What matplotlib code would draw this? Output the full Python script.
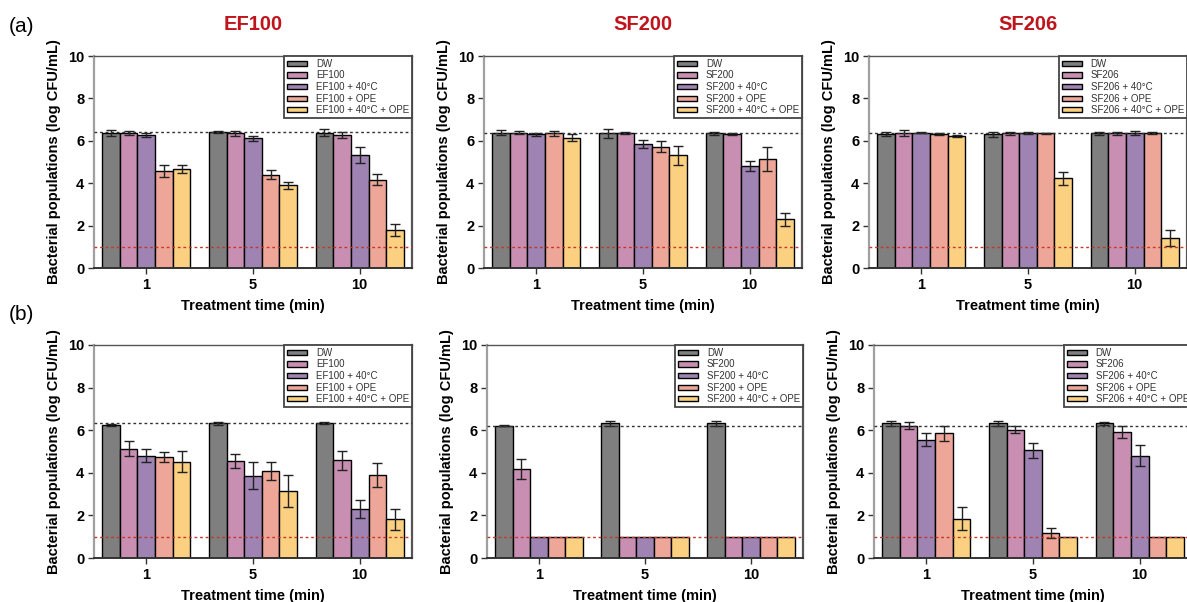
import numpy as np
import matplotlib
matplotlib.use("Agg")
import matplotlib.pyplot as plt
from matplotlib.patches import Patch

plt.rcParams['font.family'] = ['Liberation Sans', 'DejaVu Sans']

# ---------------- data ----------------
times = ["1", "5", "10"]
strains = ["EF100", "SF200", "SF206"]
treat_suffix = ["", " + 40°C", " + OPE", " + 40°C + OPE"]
colors = ["#7f7f7f", "#c98fb2", "#9e83b3", "#eda698", "#fbd081"]

# row (a): values [treatment][time]
a_EF100 = [[6.38, 6.43, 6.39], [6.38, 6.35, 6.27], [6.27, 6.11, 5.33], [4.58, 4.40, 4.17], [4.66, 3.90, 1.80]]
a_EF100_err = [[0.15, 0.05, 0.15], [0.10, 0.13, 0.15], [0.10, 0.13, 0.40], [0.27, 0.20, 0.27], [0.18, 0.17, 0.28]]
a_SF200 = [[6.38, 6.35, 6.35], [6.38, 6.35, 6.32], [6.30, 5.85, 4.81], [6.35, 5.72, 5.16], [6.14, 5.31, 2.30]]
a_SF200_err = [[0.13, 0.20, 0.07], [0.08, 0.05, 0.07], [0.07, 0.20, 0.22], [0.13, 0.25, 0.57], [0.17, 0.45, 0.30]]
a_SF206 = [[6.32, 6.30, 6.35], [6.38, 6.36, 6.35], [6.38, 6.35, 6.35], [6.30, 6.36, 6.35], [6.24, 4.23, 1.43]]
a_SF206_err = [[0.10, 0.10, 0.07], [0.14, 0.07, 0.08], [0.03, 0.05, 0.10], [0.05, 0.03, 0.05], [0.05, 0.30, 0.38]]

# row (b)
b_EF100 = [[6.24, 6.32, 6.32], [5.14, 4.56, 4.58], [4.81, 3.87, 2.29], [4.75, 4.09, 3.89], [4.53, 3.15, 1.82]]
b_EF100_err = [[0.04, 0.08, 0.05], [0.35, 0.33, 0.45], [0.30, 0.65, 0.43], [0.22, 0.42, 0.55], [0.50, 0.75, 0.50]]
b_SF200 = [[6.22, 6.32, 6.32], [4.18, 1.0, 1.0], [1.0, 1.0, 1.0], [1.0, 1.0, 1.0], [1.0, 1.0, 1.0]]
b_SF200_err = [[0.03, 0.10, 0.10], [0.47, 0, 0], [0, 0, 0], [0, 0, 0], [0, 0, 0]]
b_SF206 = [[6.32, 6.32, 6.32], [6.22, 6.03, 5.92], [5.55, 5.05, 4.81], [5.85, 1.18, 1.0], [1.85, 1.0, 1.0]]
b_SF206_err = [[0.10, 0.10, 0.08], [0.15, 0.15, 0.30], [0.30, 0.37, 0.50], [0.35, 0.25, 0], [0.55, 0, 0]]

a_ref = [6.41, 6.37, 6.35]
b_ref = [6.34, 6.20, 6.22]
detect_limit = 1.0

rows = [
    [(a_EF100, a_EF100_err), (a_SF200, a_SF200_err), (a_SF206, a_SF206_err)],
    [(b_EF100, b_EF100_err), (b_SF200, b_SF200_err), (b_SF206, b_SF206_err)],
]
refs = [a_ref, b_ref]

# ---------------- figure ----------------
W, H = 1187, 602
fig = plt.figure(figsize=(W / 100, H / 100), dpi=100)

# axes boxes in pixels: (left, top, right, bottom)
boxes = [
    [(94, 56, 412, 268), (484, 56, 802, 268), (869, 56, 1187, 268)],
    [(94, 345, 412, 558), (487, 345, 803, 558), (874, 345, 1192, 558)],
]

bar_w = 0.165
x = np.arange(len(times))

for r in range(2):
    for c in range(3):
        l, t, rr, b = boxes[r][c]
        ax = fig.add_axes([l / W, 1 - b / H, (rr - l) / W, (b - t) / H])
        vals, errs = rows[r][c]
        name = strains[c]
        labels = ["DW"] + [name + s for s in treat_suffix]
        for k in range(5):
            xs = x + (k - 2) * bar_w
            ax.bar(xs, vals[k], width=bar_w, color=colors[k], edgecolor="black",
                   linewidth=1.0, zorder=2)
            e = np.array(errs[k])
            mask = e > 0
            if mask.any():
                ax.errorbar(xs[mask], np.array(vals[k])[mask], yerr=e[mask], fmt="none",
                            ecolor="#222222", elinewidth=1.0, capsize=3.5, capthick=1.0,
                            zorder=3)
        ax.axhline(refs[r][c], color="#333333", lw=1.0, ls=(0, (2, 2)), zorder=4)
        ax.axhline(detect_limit, color="#c0392b", lw=1.0, ls=(0, (2, 2)), zorder=4)

        ax.set_xlim(-0.49, 2.49)
        ax.set_ylim(0, 10)
        ax.set_yticks([0, 2, 4, 6, 8, 10])
        ax.set_xticks(x)
        ax.set_xticklabels(times)
        ax.tick_params(axis="both", labelsize=10.5, colors="#333333", length=4, width=1.0,
                       labelcolor="black", pad=3)
        for lab in ax.get_xticklabels() + ax.get_yticklabels():
            lab.set_fontweight("bold")
        ax.spines["left"].set_color("#a0a0a0")
        ax.spines["left"].set_linewidth(1.6)
        ax.spines["top"].set_color("#555555")
        ax.spines["top"].set_linewidth(1.0)
        ax.spines["right"].set_color("#555555")
        ax.spines["right"].set_linewidth(1.6)
        ax.spines["bottom"].set_color("#333333")
        ax.spines["bottom"].set_linewidth(1.4)
        ax.set_ylabel("Bacterial populations (log CFU/mL)", fontsize=10.5,
                      fontweight="bold", labelpad=5)
        ax.set_xlabel("Treatment time (min)", fontsize=10.5, fontweight="bold", labelpad=5)

        handles = [Patch(facecolor=colors[k], edgecolor="black", linewidth=1.0)
                   for k in range(5)]
        leg = ax.legend(handles, labels, loc="upper right", bbox_to_anchor=(1, 1),
                        borderaxespad=0, fontsize=7.0, frameon=True, fancybox=False,
                        framealpha=1, edgecolor="#444444", handlelength=2.1,
                        handleheight=0.45, labelspacing=0.16, handletextpad=0.9,
                        borderpad=0.3)
        leg.get_frame().set_linewidth(1.3)
        for txt in leg.get_texts():
            txt.set_color("#333333")

        if r == 0:
            fig.text((l + rr) / 2 / W, 1 - 25 / H, name, color="#c0141c",
                     fontsize=14.5, fontweight="bold", ha="center", va="center")

fig.text(9 / W, 1 - 27 / H, "(a)", fontsize=15, ha="left", va="center")
fig.text(9 / W, 1 - 315 / H, "(b)", fontsize=15, ha="left", va="center")

fig.savefig("out.png", dpi=100)
